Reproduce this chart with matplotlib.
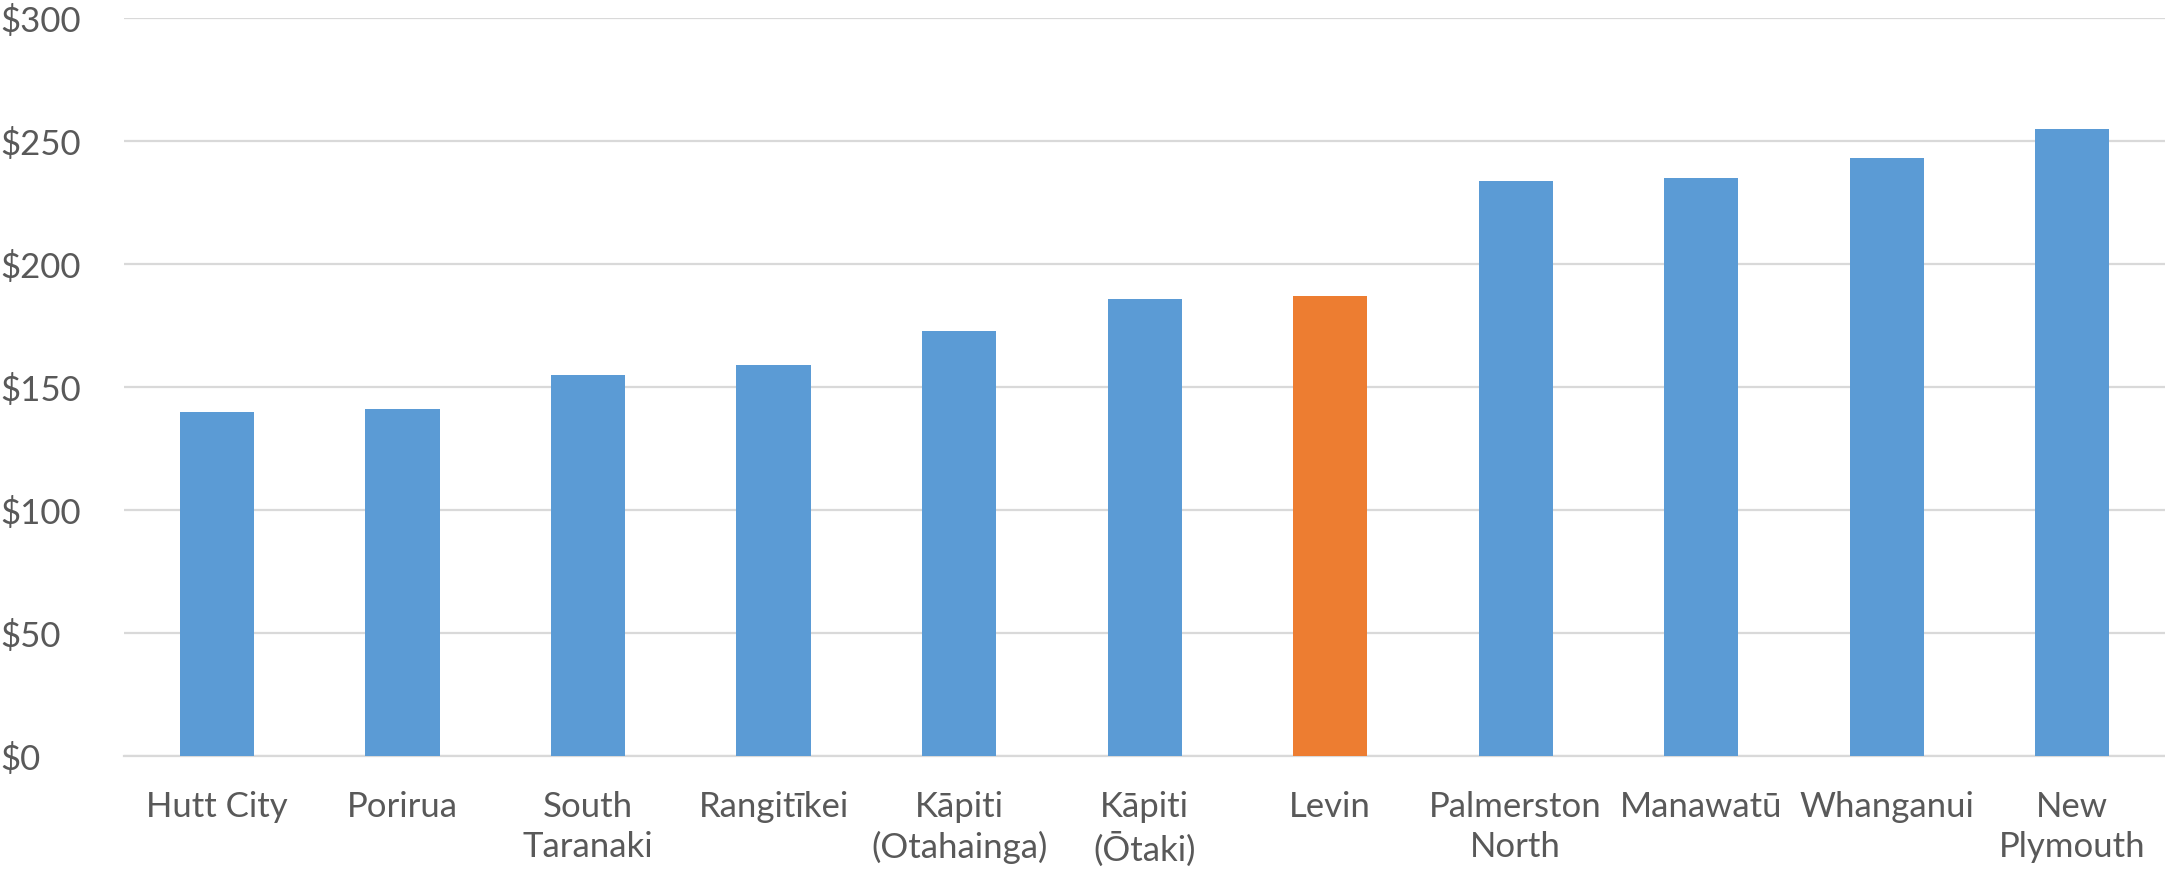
#!/usr/bin/env python3

import matplotlib
matplotlib.use("Agg")
import matplotlib.pyplot as plt
from matplotlib.ticker import FuncFormatter

districts = [
    "Hutt City", "Porirua", "South\nTaranaki", "Rangitīkei", "Kāpiti\n(Otahainga)",
    "Kāpiti\n(Ōtaki)", "Levin", "Palmerston\nNorth", "Manawatū", "Whanganui", "New\nPlymouth",
]
charges = [140, 141, 155, 159, 173, 186, 187, 234, 235, 243, 255]
highlight = "Levin"

blue = "#5B9BD5"
orange = "#ED7D31"
text_col = "#595959"

plt.rcParams["font.family"] = ["Lato", "DejaVu Sans"]

fig = plt.figure(figsize=(21.65, 8.69), dpi=100)
ax = fig.add_axes([0.0574, 0.130, 0.9426, 0.849])

colors = [orange if d == highlight else blue for d in districts]
ax.bar(range(len(districts)), charges, width=0.4, color=colors, zorder=3)

ax.set_xlim(-0.5, len(districts) - 0.5)
ax.set_ylim(0, 300)
ax.set_yticks(range(0, 301, 50))
ax.yaxis.set_major_formatter(FuncFormatter(lambda v, p: f"${v:.0f}"))
ax.set_xticks(range(len(districts)))
ax.set_xticklabels(districts, linespacing=1.3)

ax.grid(axis="y", color="#D9D9D9", linewidth=1.6, zorder=0)
for s in ["top", "right", "left"]:
    ax.spines[s].set_visible(False)
ax.spines["bottom"].set_color("#D9D9D9")
ax.spines["bottom"].set_linewidth(1.6)

ax.tick_params(axis="both", length=0, labelsize=25, colors=text_col)
ax.tick_params(axis="x", pad=25)
for lbl in ax.get_yticklabels():
    lbl.set_horizontalalignment("left")
    lbl.set_x(-0.0574 / 0.9426)
ax.yaxis.set_tick_params(pad=0)

plt.savefig("out.png", dpi=100)
